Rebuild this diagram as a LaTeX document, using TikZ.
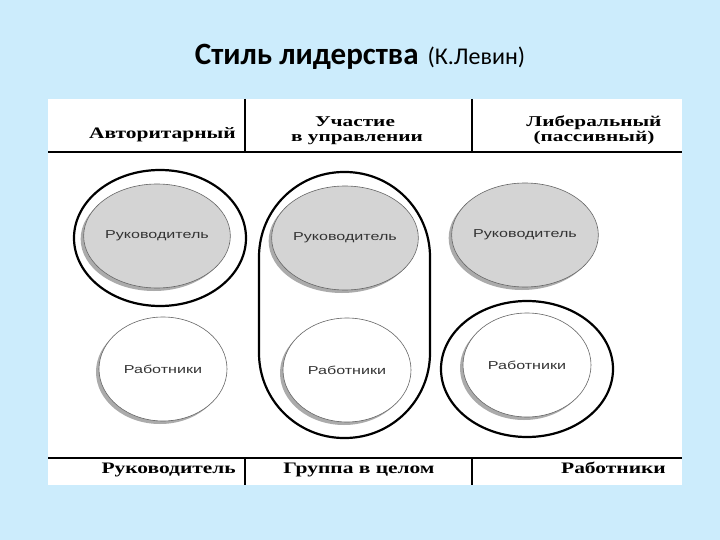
\documentclass[tikz,border=0pt]{standalone}
\usepackage{fontspec}
\setmainfont{Liberation Serif}
\newfontfamily\titlefont{Carlito}
\newfontfamily\tabfont[FakeStretch=1.34]{Liberation Serif}
\newfontfamily\tabfontw[FakeStretch=1.42]{Liberation Serif}
\newfontfamily\lblfont[FakeStretch=1.4]{Liberation Sans}
\usetikzlibrary{shapes.geometric,shadows}
\definecolor{bg}{RGB}{204,236,252}
\definecolor{leadfill}{RGB}{212,212,212}
\definecolor{shadecol}{RGB}{150,150,150}
\tikzset{
  boss/.style={ellipse, draw=black!60, line width=0.6pt, fill=leadfill,
    minimum width=128pt, minimum height=104pt, inner sep=0pt,
    drop shadow={shadow xshift=-3pt, shadow yshift=-3pt, fill=shadecol, opacity=0.8},
    font=\lblfont\fontsize{11.5}{13}\selectfont, text=black!80},
  staff/.style={boss, fill=white},
  ring/.style={ellipse, draw=black, line width=2.2pt, inner sep=0pt,
    minimum width=172pt, minimum height=136pt},
  head/.style={font=\tabfont\bfseries\fontsize{16}{18}\selectfont, inner sep=0pt},
  head2/.style={font=\tabfontw\bfseries\fontsize{15}{17}\selectfont, inner sep=0pt},
  tabrule/.style={draw=black, line width=1.2pt},
  colrule/.style={draw=black, line width=2pt}
}
\begin{document}
\begin{tikzpicture}[x=1pt,y=-1pt]
\useasboundingbox (0,0) rectangle (720,540);
\fill[bg] (0,0) rectangle (720,540);
\fill[white] (48,99) rectangle (682,485);
% title
\node[font=\titlefont, inner sep=0pt, anchor=base] (title) at (360,65)
  {{\fontsize{31}{36}\selectfont\bfseries Стиль лидерства}\hspace{9pt}{\fontsize{24}{28}\selectfont(К.Левин)}};
% table rules
\draw[tabrule] (48,152) -- (682,152);
\draw[tabrule] (48,458) -- (682,458);
\draw[colrule] (245,99) -- (245,152);
\draw[tabrule] (472,99) -- (472,152);
\draw[colrule] (245,458) -- (245,485);
\draw[tabrule] (472,458) -- (472,485);
% headers
\node[head, anchor=base east] (h1) at (236,139) {Авторитарный};
\node[head2, anchor=base] (h2a) at (355,127) {Участие};
\node[head2, anchor=base] (h2b) at (357,142) {в управлении};
\node[head2, anchor=base] (h3a) at (594,127) {Либеральный};
\node[head2, anchor=base] (h3b) at (594,142) {(пассивный)};
\node[head, anchor=base east] (f1) at (236,473) {Руководитель};
\node[head, anchor=base] (f2) at (359,473) {Группа в целом};
\node[head, anchor=base east] (f3) at (666,473) {Работники};
% rings
\node[ring] (ringA) at (160,238) {};
\draw[line width=2.2pt, rounded corners=85pt] (259,172) rectangle (430,438);
\node[ring] (ringC) at (527,369) {};
% ellipses
\node[boss] (bossA) at (157,236) {Руководитель};
\node[staff] (staffA) at (163,369) {Работники};
\node[boss] (bossB) at (345,238) {Руководитель};
\node[staff] (staffB) at (347,370) {Работники};
\node[boss] (bossC) at (525,235) {Руководитель};
\node[staff] (staffC) at (527,365) {Работники};
\end{tikzpicture}
\end{document}
